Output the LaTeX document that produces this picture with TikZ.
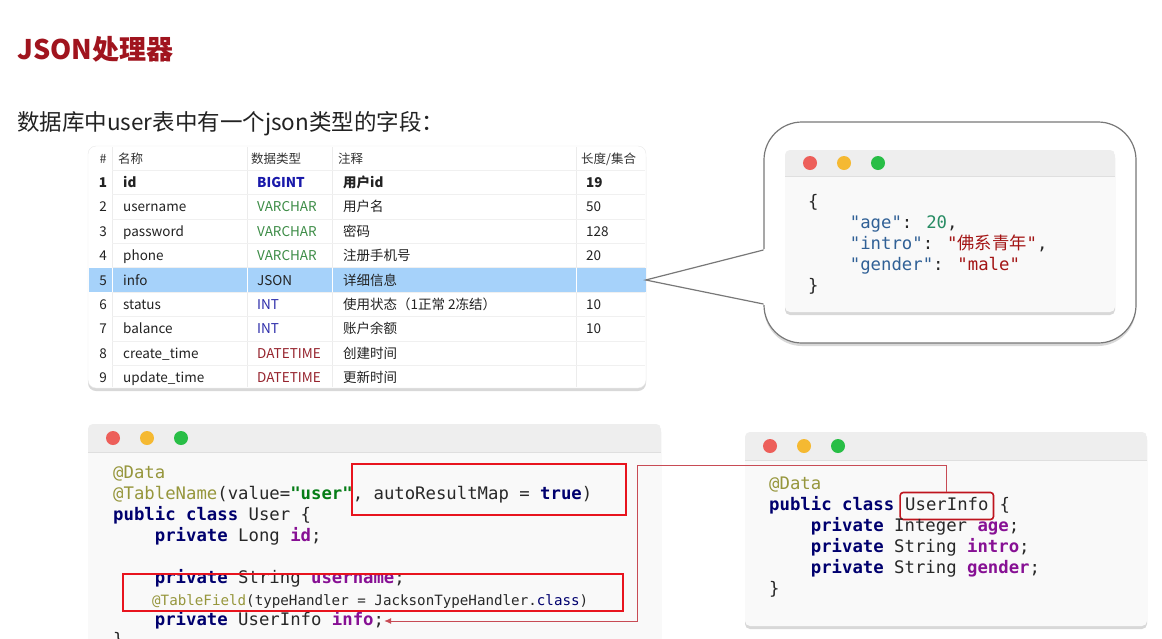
\documentclass[tikz,border=0pt]{standalone}
\usepackage{fontspec}
\setmainfont{Noto Sans CJK SC}
\newfontfamily\codefont{DejaVu Sans Mono}
\newfontfamily\cjk{Noto Sans CJK SC}
\usetikzlibrary{arrows.meta, positioning, calc, shadows}
\definecolor{titlered}{RGB}{160,20,30}
\definecolor{txtgray}{RGB}{34,34,34}
\definecolor{rowhl}{RGB}{166,210,250}
\definecolor{tbig}{RGB}{25,25,170}
\definecolor{tvar}{RGB}{60,140,70}
\definecolor{tint}{RGB}{45,45,170}
\definecolor{tdate}{RGB}{150,35,45}
\definecolor{winbar}{RGB}{238,238,238}
\definecolor{winbody}{RGB}{249,249,249}
\definecolor{dotred}{RGB}{237,95,90}
\definecolor{dotyel}{RGB}{245,185,50}
\definecolor{dotgrn}{RGB}{40,190,70}
\definecolor{kwblue}{RGB}{0,0,110}
\definecolor{anncol}{RGB}{150,150,60}
\definecolor{fldcol}{RGB}{135,16,148}
\definecolor{strcol}{RGB}{6,125,23}
\definecolor{codetxt}{RGB}{40,40,40}
\definecolor{jkey}{RGB}{48,96,150}
\definecolor{jnum}{RGB}{40,140,100}
\definecolor{jstr}{RGB}{163,21,21}
\definecolor{redline}{RGB}{232,20,30}
\definecolor{uired}{RGB}{190,20,30}
\definecolor{linkred}{RGB}{200,75,85}
\definecolor{calloutgray}{RGB}{120,120,120}
\newcommand\kw[1]{\textcolor{kwblue}{\bfseries #1}}
\newcommand\ann[1]{\textcolor{anncol}{#1}}
\newcommand\fld[1]{\textcolor{fldcol}{\bfseries #1}}
\newcommand\strg[1]{\textcolor{strcol}{\bfseries #1}}
\newcommand\jk[1]{\textcolor{jkey}{#1}}
\newcommand\jn[1]{\textcolor{jnum}{#1}}
\newcommand\js[1]{\textcolor{jstr}{#1}}
\newcommand\ind{\hphantom{xxxx}}

\begin{document}
\begin{tikzpicture}[x=1pt, y=-1pt,
    every node/.style={inner sep=0pt},
    cell/.style={anchor=west, font=\fontsize{13.5}{16}\selectfont, text=txtgray, text height=10pt, text depth=3pt},
    head/.style={cell, font=\fontsize{12.5}{15}\selectfont, text=black!80},
    code/.style={anchor=west, font=\codefont\fontsize{17.3}{20}\selectfont, text=codetxt, text height=13pt, text depth=4pt},
    redbox/.style={draw=redline, line width=1.5pt},
    uibox/.style={code, draw=uired, line width=1.6pt, rounded corners=3pt, inner xsep=5pt, inner ysep=5pt},
    link/.style={draw=linkred, line width=0.9pt, -{Latex[length=7pt,width=6pt]}},
    shadowed/.style={drop shadow={opacity=0.3, shadow xshift=0pt, shadow yshift=-3pt}}
]
\useasboundingbox (0,0) rectangle (1162,638);
\clip (0,0) rectangle (1162,638);
\fill[white] (0,0) rectangle (1162,638);

%% Title
\node[anchor=west, font=\fontsize{27}{31}\selectfont\bfseries, text=titlered] (title) at (17,49) {JSON处理器};
\node[anchor=west, font=\fontsize{22.5}{26}\selectfont, text=txtgray] (sub) at (17,124) {数据库中user表中有一个json类型的字段：};

%% Table
\node[fill=white, draw=gray!18, rounded corners=8pt, shadowed, minimum width=558pt, minimum height=242pt] (tb) at (367,267) {};
\node[fill=rowhl, minimum width=557pt, minimum height=24pt] (hl) at (367,280) {};
\foreach \cx in {112,247,332,576}{
    \draw[gray!15] (\cx,147) -- (\cx,387);
    \draw[white, line width=1pt] (\cx,268) -- (\cx,292);
}
\foreach \n in {0,...,8}
    \draw[gray!12] (112,{170+\n*24.4}) -- (645,{170+\n*24.4});

\node[head, anchor=center] (h0) at (103,160) {\#};
\node[head] (h1) at (118,160) {名称};
\node[head] (h2) at (251,160) {数据类型};
\node[head] (h3) at (338,160) {注释};
\node[head] (h4) at (581,160) {长度/集合};

\node[cell, anchor=center, font=\fontsize{13.5}{16}\selectfont\bfseries] (n1) at (103,184) {1};
\node[cell, font=\fontsize{13.5}{16}\selectfont\bfseries] (nm1) at (123,184) {id};
\node[cell, font=\fontsize{13.5}{16}\selectfont\bfseries, text=tbig] (tp1) at (257,184) {BIGINT};
\node[cell, font=\fontsize{13.5}{16}\selectfont\bfseries] (cm1) at (343,184) {用户id};
\node[cell, font=\fontsize{13.5}{16}\selectfont\bfseries] (ln1) at (586,184) {19};

\foreach \n/\nm/\tp/\tc/\cm/\ln in {2/username/VARCHAR/tvar/用户名/50,
    3/password/VARCHAR/tvar/密码/128, 4/phone/VARCHAR/tvar/注册手机号/20,
    5/info/JSON/txtgray/详细信息/{}, 6/status/INT/tint/使用状态（1正常 2冻结）/10,
    7/balance/INT/tint/账户余额/10, 8/create\_time/DATETIME/tdate/创建时间/{},
    9/update\_time/DATETIME/tdate/更新时间/{}}{
    \node[cell, anchor=center] (n\n) at (103,{184+(\n-1)*24.4}) {\n};
    \node[cell] (nm\n) at (123,{184+(\n-1)*24.4}) {\nm};
    \node[cell, text=\tc] (tp\n) at (257,{184+(\n-1)*24.4}) {\tp};
    \node[cell] (cm\n) at (343,{184+(\n-1)*24.4}) {\cm};
    \node[cell] (ln\n) at (586,{184+(\n-1)*24.4}) {\ln};
}

%% Callout
\node[draw=calloutgray, line width=1.2pt, fill=white, rounded corners=38pt, shadowed, minimum width=372pt, minimum height=221pt] (cb) at (950,232.5) {};
\coordinate (ta) at ($(cb.west)+(0,17.5)$);
\coordinate (tz) at ($(cb.west)+(0,71.5)$);
\fill[white] (hl.east) -- ($(ta)+(2,-1)$) -- ($(tz)+(2,1)$) -- cycle;
\draw[calloutgray, line width=1.2pt] (ta) -- (hl.east) -- (tz);

%% Windows
\foreach \nm/\xa/\ya/\xb/\yb/\bh in {jw/785/150/1115/312/26, lw/88/424/661/680/28, rw/745/432/1147/626/28}{
    \fill[winbody, rounded corners=5pt, shadowed] (\xa,\ya) rectangle (\xb,\yb);
    \begin{scope}
        \clip[rounded corners=5pt] (\xa,\ya) rectangle (\xb,\yb);
        \fill[winbar] (\xa,\ya) rectangle (\xb,\ya+\bh);
        \draw[gray!25] (\xa,\ya+\bh) -- (\xb,\ya+\bh);
    \end{scope}
    \fill[dotred] (\xa+25,\ya+\bh/2) circle (7);
    \fill[dotyel] (\xa+59,\ya+\bh/2) circle (7);
    \fill[dotgrn] (\xa+93,\ya+\bh/2) circle (7);
}

%% JSON value
\node[code] (j1) at (808,203) {\{};
\node[code] (j2) at (808,224) {\ind\jk{"age"}: \jn{20},};
\node[code] (j3) at (808,245) {\ind\jk{"intro"}: \js{"{\cjk 佛系青年}"},};
\node[code] (j4) at (808,266) {\ind\jk{"gender"}: \js{"male"}};
\node[code] (j5) at (808,287) {\}};

%% User class
\node[code] (l1) at (113,474) {\ann{@Data}};
\node[code] (l2) at (113,495) {\ann{@TableName}(value=\strg{"user"}, autoResultMap = \kw{true})};
\node[code] (l3) at (113,516) {\kw{public class} User \{};
\node[code] (l4) at (113,537) {\ind\kw{private} Long \fld{id};};
\node[code] (l6) at (113,579) {\ind\kw{private} String \fld{username};};
\node[code, font=\codefont\fontsize{14.2}{17}\selectfont] (l7) at (152,601) {\ann{@TableField}(typeHandler = JacksonTypeHandler.\textcolor{kwblue}{class})};
\node[code] (l8) at (113,621) {\ind\kw{private} UserInfo \fld{info};};
\node[code] (l9) at (113,641) {\}};

\node[redbox, minimum width=274pt, minimum height=51pt] (rb1) at (489,489.5) {};
\node[redbox, minimum width=500pt, minimum height=37pt] (rb2) at (373,592.5) {};

%% UserInfo class
\node[code] (r1) at (769,485) {\ann{@Data}};
\node[code] (r2) at (769,506) {\kw{public class}};
\node[uibox, right=5pt of r2] (ui) {UserInfo};
\node[code, right=5pt of ui] (r2b) {\{};
\node[code] (r3) at (769,527) {\ind\kw{private} Integer \fld{age};};
\node[code] (r4) at (769,548) {\ind\kw{private} String \fld{intro};};
\node[code] (r5) at (769,569) {\ind\kw{private} String \fld{gender};};
\node[code] (r6) at (769,590) {\}};

%% Link
\coordinate (lk) at (637,465);
\draw[link] (ui.north) |- (lk) |- (l8.east);
\end{tikzpicture}
\end{document}
